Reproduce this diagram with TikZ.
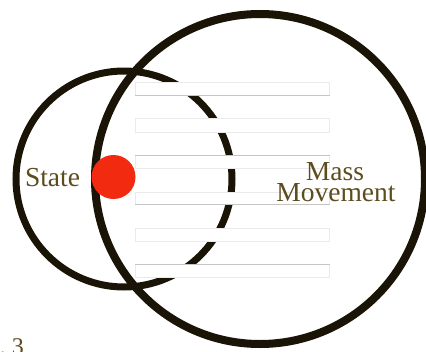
\documentclass[tikz,border=0pt]{standalone}
\usepackage{fontspec}
\setmainfont{Liberation Serif}
\definecolor{inkc}{RGB}{26,20,6}
\definecolor{dotc}{RGB}{241,42,16}
\definecolor{txtc}{RGB}{92,76,30}
\definecolor{faintc}{RGB}{234,234,234}
\definecolor{rulec}{RGB}{196,196,196}
\tikzset{
  ring/.style={draw=inkc, line width=#1},
  band/.style={draw=faintc, fill=white, line width=0.8pt},
  bandrule/.style={draw=rulec, line width=0.9pt},
  lbl/.style={text=txtc, font=\fontsize{27.5}{21}\selectfont, inner sep=0pt, anchor=base},
}
\begin{document}
\begin{tikzpicture}[x=1pt,y=-1pt]
\useasboundingbox (0,0) rectangle (426,351);
% small circle (partly hidden by bands)
\draw[ring=7pt] (124,179) circle[radius=108];
% bands
\foreach \t/\b [count=\i] in {82/95,118/132,155/168,192/204,228/241,264/277}{
  \node[band, rectangle, minimum width=194pt, minimum height={\b-\t}, inner sep=0pt, anchor=north west] (band\i) at (135,\t) {};
}
\draw[bandrule] (band1.south west) -- (band1.south east);
\draw[bandrule] (band3.north west) -- (band3.north east);
\draw[bandrule] (band4.south west) -- (band4.south east);
\draw[bandrule] (band6.north west) -- (band6.north east);
% big circle
\draw[ring=8pt] (260,179) circle[radius=165];
% red dot
\node[circle, fill=dotc, minimum size=44pt, inner sep=0pt] (dot) at (113.5,177) {};
% labels
\node[lbl] (state) at (52.5,186) {State};
\node[lbl] (mass) at (335,180) {Mass};
\node[lbl] (move) at (336,201) {Movement};
\node[text=txtc, font=\fontsize{24}{24}\selectfont, inner sep=0pt, anchor=base east] (fig) at (24,354) {.\ 3};
\end{tikzpicture}
\end{document}
